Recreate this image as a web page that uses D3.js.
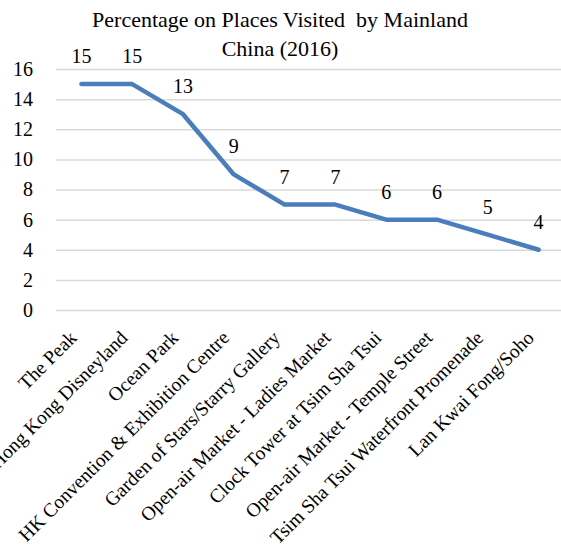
<!DOCTYPE html>
<html>
<head>
  <meta charset="utf-8">
  <script src="https://d3js.org/d3.v7.min.js"></script>
</head>
<body style="margin:0">
  <svg id="chart" width="561" height="556"></svg>
  <script>
    // chart data
    var places = ['The Peak', 'Hong Kong Disneyland', 'Ocean Park',
      'HK Convention & Exhibition Centre', 'Garden of Stars/Starry Gallery',
      'Open-air Market - Ladies Market', 'Clock Tower at Tsim Sha Tsui',
      'Open-air Market - Temple Street', 'Tsim Sha Tsui Waterfront Promenade',
      'Lan Kwai Fong/Soho'];
    var percent = [15, 15, 13, 9, 7, 7, 6, 6, 5, 4];
    var yTicks = [0, 2, 4, 6, 8, 10, 12, 14, 16];
    var titleLines = ['Percentage on Places Visited  by Mainland', 'China (2016)'];

    var width = 561, height = 556;
    var margin = { left: 56, right: -3, top: 69, bottom: 246 };

    // texts take the page default (serif) font
    var svg = d3.select('#chart');

    var x = d3.scalePoint()
      .domain(places)
      .range([margin.left, width - margin.right])
      .padding(0.5);

    var y = d3.scaleLinear()
      .domain([0, 16])
      .range([height - margin.bottom, margin.top]);

    // gridlines
    svg.append('g')
      .selectAll('line')
      .data(yTicks)
      .enter().append('line')
      .attr('x1', margin.left)
      .attr('x2', width - margin.right)
      .attr('y1', function (d) { return y(d) + 0.5; })
      .attr('y2', function (d) { return y(d) + 0.5; })
      .attr('stroke', '#d9d9d9')
      .attr('stroke-width', 1.5);

    // y axis labels
    var yAxis = d3.axisLeft(y).tickValues(yTicks).tickSize(0).tickPadding(0);
    var gy = svg.append('g')
      .attr('transform', 'translate(33,0)')
      .call(yAxis)
      .attr('font-family', null)
      .attr('font-size', null);
    gy.select('.domain').remove();
    gy.selectAll('text')
      .attr('font-size', 20)
      .attr('fill', '#000');

    // x axis labels, rotated
    var xAxis = d3.axisBottom(x).tickSize(0).tickPadding(0);
    var gx = svg.append('g')
      .attr('transform', 'translate(0,' + y(0) + ')')
      .call(xAxis)
      .attr('font-family', null)
      .attr('font-size', null);
    gx.select('.domain').remove();
    gx.selectAll('text')
      .attr('font-size', 19.5)
      .attr('fill', '#000')
      .attr('text-anchor', 'end')
      .attr('y', 0)
      .attr('dy', 0)
      .attr('transform', 'translate(-4,29) rotate(-45)');

    // line
    var line = d3.line()
      .x(function (d, i) { return x(places[i]); })
      .y(function (d) { return y(d); });

    svg.append('path')
      .datum(percent)
      .attr('d', line)
      .attr('fill', 'none')
      .attr('stroke', '#4a7ebb')
      .attr('stroke-width', 4.5)
      .attr('stroke-linejoin', 'round')
      .attr('stroke-linecap', 'round');

    // data labels
    svg.append('g')
      .selectAll('text')
      .data(percent)
      .enter().append('text')
      .attr('x', function (d, i) { return x(places[i]); })
      .attr('y', function (d) { return y(d) - 21; })
      .attr('text-anchor', 'middle')
      .attr('font-size', 20)
      .text(function (d) { return d; });

    // title
    svg.append('g')
      .selectAll('text')
      .data(titleLines)
      .enter().append('text')
      .attr('x', 280)
      .attr('y', function (d, i) { return 27 + i * 29; })
      .attr('text-anchor', 'middle')
      .attr('font-size', 22)
      .style('white-space', 'pre')
      .text(function (d) { return d; });
  </script>
</body>
</html>
